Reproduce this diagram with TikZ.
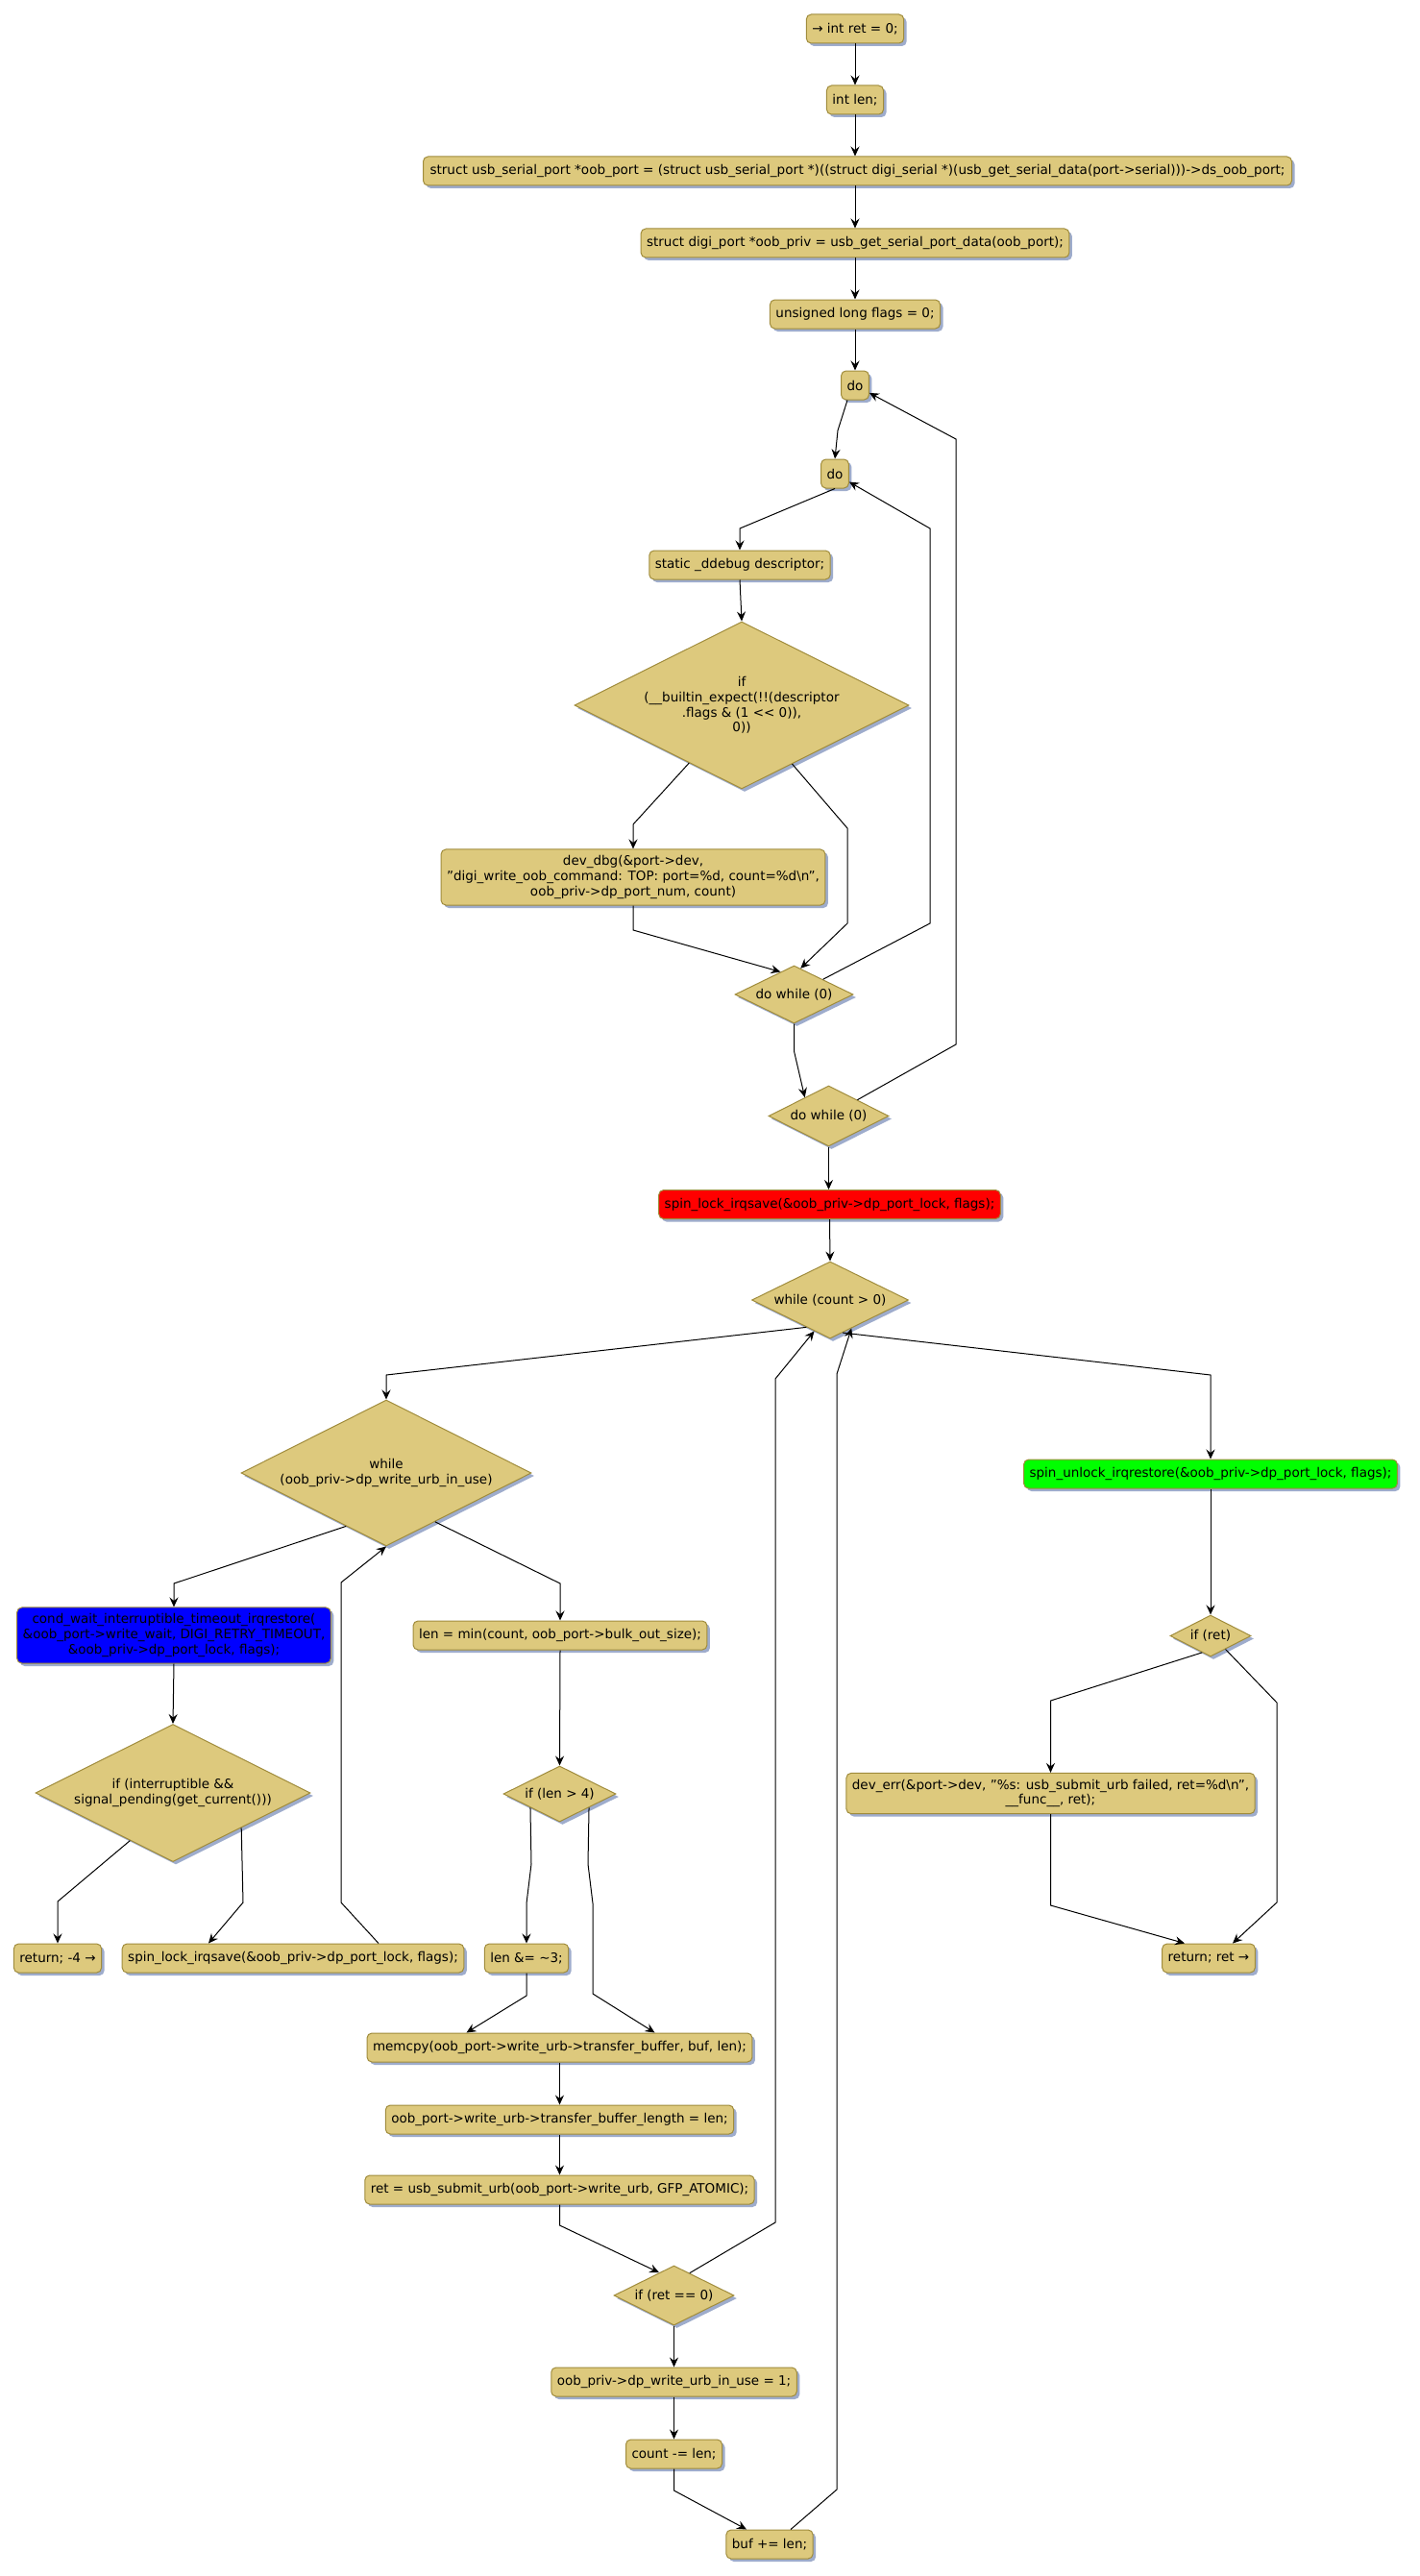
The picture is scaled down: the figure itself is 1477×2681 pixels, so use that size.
\documentclass[tikz,border=0pt]{standalone}
\usepackage{fontspec}
\setmainfont{DejaVu Sans}
\usetikzlibrary{shapes.geometric,shadows,arrows.meta}
\definecolor{boxfill}{RGB}{221,201,125}
\definecolor{boxline}{RGB}{160,140,60}
\definecolor{shadowc}{RGB}{158,172,204}
\begin{document}
\begin{tikzpicture}[x=1pt,y=-1pt,
  base/.style={draw=boxline, line width=1pt, fill=boxfill, text=black,
    font=\fontsize{13.5pt}{15.8pt}\selectfont,
    drop shadow={shadow xshift=3pt, shadow yshift=-3pt, fill=shadowc, opacity=1}},
  act/.style={base, rounded corners=5pt, inner xsep=6pt, inner ysep=6.5pt, minimum height=30pt, align=center},
  dec/.style={base, diamond, inner sep=0pt, align=center},
  arr/.style={draw=black, line width=1pt, -{Stealth[length=10pt,width=9pt,inset=3.5pt]}}
]
\fill[white] (0,0) rectangle (1477,2681);
\useasboundingbox (0,0) rectangle (1477,2681);

% ---------- nodes ----------
\node[act] (intret) at (890,30) {→ int ret = 0;};
\node[act] (intlen) at (890,104) {int len;};
\node[act, inner xsep=7pt] (struct) at (892.5,178) {\resizebox{890pt}{\height}{struct usb\_serial\_port *oob\_port = (struct usb\_serial\_port *)((struct digi\_serial *)(usb\_get\_serial\_data(port->serial)))->ds\_oob\_port;}};
\node[act] (digi) at (890,253) {struct digi\_port *oob\_priv = usb\_get\_serial\_port\_data(oob\_port);};
\node[act] (flags) at (890,327) {unsigned long flags = 0;};
\node[act] (doout) at (890,401) {do};
\node[act] (doin) at (869,493) {do};
\node[act] (static) at (770,588) {static \_ddebug descriptor;};
\node[dec, minimum width=348pt, minimum height=174pt, aspect=2] (ifexp) at (772,734) {if\\(\_\_builtin\_expect(!!(descriptor\\.flags \& (1 <{}< 0)),\\0))};
\node[act] (devdbg) at (659,913) {dev\_dbg(\&port->dev,\\"digi\_write\_oob\_command: TOP: port=\%d, count=\%d\textbackslash n",\\oob\_priv->dp\_port\_num, count)};
\node[dec, minimum width=123pt, minimum height=60pt, aspect=2.05] (dwin) at (826.5,1035) {do while (0)};
\node[dec, minimum width=125pt, minimum height=63pt, aspect=1.98] (dwout) at (862.5,1161.5) {do while (0)};
\node[act, fill=red] (lock) at (863.5,1253.5) {spin\_lock\_irqsave(\&oob\_priv->dp\_port\_lock, flags);};
\node[dec, minimum width=163pt, minimum height=80pt, aspect=2.04] (wcount) at (864,1353) {while (count > 0)};
\node[dec, minimum width=302pt, minimum height=152pt, aspect=1.99] (wurb) at (402,1533) {while\\(oob\_priv->dp\_write\_urb\_in\_use)};
\node[act, fill=blue] (cond) at (181,1702) {cond\_wait\_interruptible\_timeout\_irqrestore(\\\&oob\_port->write\_wait, DIGI\_RETRY\_TIMEOUT,\\\&oob\_priv->dp\_port\_lock, flags);};
\node[dec, minimum width=286pt, minimum height=143pt, aspect=2] (ifint) at (180,1866) {if (interruptible \&\&\\signal\_pending(get\_current()))};
\node[act] (ret4) at (60,2038) {return; -4 →};
\node[act] (relock) at (305,2038) {spin\_lock\_irqsave(\&oob\_priv->dp\_port\_lock, flags);};
\node[act] (lenmin) at (583,1702) {len = min(count, oob\_port->bulk\_out\_size);};
\node[dec, minimum width=117pt, minimum height=58pt, aspect=2.02] (iflen) at (582.5,1867) {if (len > 4)};
\node[act] (lenand) at (548,2038) {len \&= \textasciitilde 3;};
\node[act] (memcpy) at (582.5,2131) {memcpy(oob\_port->write\_urb->transfer\_buffer, buf, len);};
\node[act] (tlen) at (582.5,2206) {oob\_port->write\_urb->transfer\_buffer\_length = len;};
\node[act] (submit) at (582.5,2279) {ret = usb\_submit\_urb(oob\_port->write\_urb, GFP\_ATOMIC);};
\node[dec, minimum width=125pt, minimum height=62pt, aspect=2.02] (ifret0) at (701.5,2389) {if (ret == 0)};
\node[act] (inuse) at (701.5,2479) {oob\_priv->dp\_write\_urb\_in\_use = 1;};
\node[act] (cnt) at (701.5,2554) {count -= len;};
\node[act] (buf) at (801,2648) {buf += len;};
\node[act, fill=green] (unlock) at (1260,1534) {spin\_unlock\_irqrestore(\&oob\_priv->dp\_port\_lock, flags);};
\node[dec, minimum width=84pt, minimum height=43pt, aspect=1.95] (ifret) at (1260,1702.5) {if (ret)};
\node[act] (deverr) at (1093.5,1866.5) {dev\_err(\&port->dev, "\%s: usb\_submit\_urb failed, ret=\%d\textbackslash n",\\\_\_func\_\_, ret);};
\node[act] (retret) at (1258,2038) {return; ret →};

% ---------- connectors ----------
\draw[arr] (intret.south) -- (intret.south |- intlen.north);
\draw[arr] (intlen.south) -- (intlen.south |- struct.north);
\draw[arr] (intlen.south |- struct.south) -- (intlen.south |- digi.north);
\draw[arr] (digi.south) -- (digi.south |- flags.north);
\draw[arr] (flags.south) -- (flags.south |- doout.north);
\draw[arr] ([xshift=-8pt]doout.south) -- (872,448) -- (doin.north);
\draw[arr] (doin.south) -- (770,550) -- (static.north);
\draw[arr] (static.south) -- (ifexp.north);
\draw[arr] (ifexp) -- (659,858) -- (devdbg.north);
\draw[arr] (ifexp) -- (882,862) -- (882,961) -- (dwin.76);
\draw[arr] (devdbg.south) -- (659,968) -- (dwin.121);
\draw[arr] (dwin) -- (968,961) -- (968,550) -- (doin);
\draw[arr] (dwin.south) -- (826.5,1094) -- (dwout.142);
\draw[arr] (dwout) -- (995,1087) -- (995,457) -- (doout);
\draw[arr] (dwout.south) -- (dwout.south |- lock.north);
\draw[arr] (lock.south) -- (wcount.north);
\draw[arr] (wcount.229) -- (402,1431) -- (wurb.north);
\draw[arr] (wcount.291) -- (1260,1431) -- (unlock.north);
\draw[arr] (wurb.233) -- (181,1648) -- (cond.north);
\draw[arr] (wurb.315) -- (583,1648) -- (lenmin.north);
\draw[arr] ([xshift=89pt]relock.north) -- (355,1980) -- (355,1647) -- (wurb.south);
\draw[arr] (cond.south) -- (ifint.north);
\draw[arr] (ifint.228) -- (60,1979) -- (ret4.north);
\draw[arr] (ifint.333) -- (253,1980) -- ([xshift=-88pt]relock.north);
\draw[arr] (lenmin.south) -- (iflen.north);
\draw[arr] (iflen.205) -- (553,1940) -- (548,1981) -- (lenand.north);
\draw[arr] (iflen.335) -- (612,1940) -- (617,1981) -- (617,2075) -- ([xshift=99pt]memcpy.north);
\draw[arr] (lenand.south) -- (548,2077) -- ([xshift=-97pt]memcpy.north);
\draw[arr] (memcpy.south) -- (tlen.north);
\draw[arr] (tlen.south) -- (submit.north);
\draw[arr] (submit.south) -- (582.5,2316) -- (ifret0.123);
\draw[arr] (ifret0.south) -- (inuse.north);
\draw[arr] (inuse.south) -- (cnt.north);
\draw[arr] (cnt.south) -- (701.5,2592) -- ([xshift=-24pt]buf.north);
\draw[arr] ([xshift=22pt]buf.north) -- (871,2591) -- (871,1430) -- (wcount.307);
\draw[arr] (ifret0.55) -- (807,2313) -- (807,1435) -- (wcount.243);
\draw[arr] (unlock.south) -- (ifret.north);
\draw[arr] (ifret.243) -- (1093.5,1770) -- (deverr.north);
\draw[arr] (ifret.318) -- (1329,1772) -- (1329,1980) -- ([xshift=25pt]retret.north);
\draw[arr] (deverr.south) -- (1093.5,1983) -- ([xshift=-25pt]retret.north);
\end{tikzpicture}
\end{document}
